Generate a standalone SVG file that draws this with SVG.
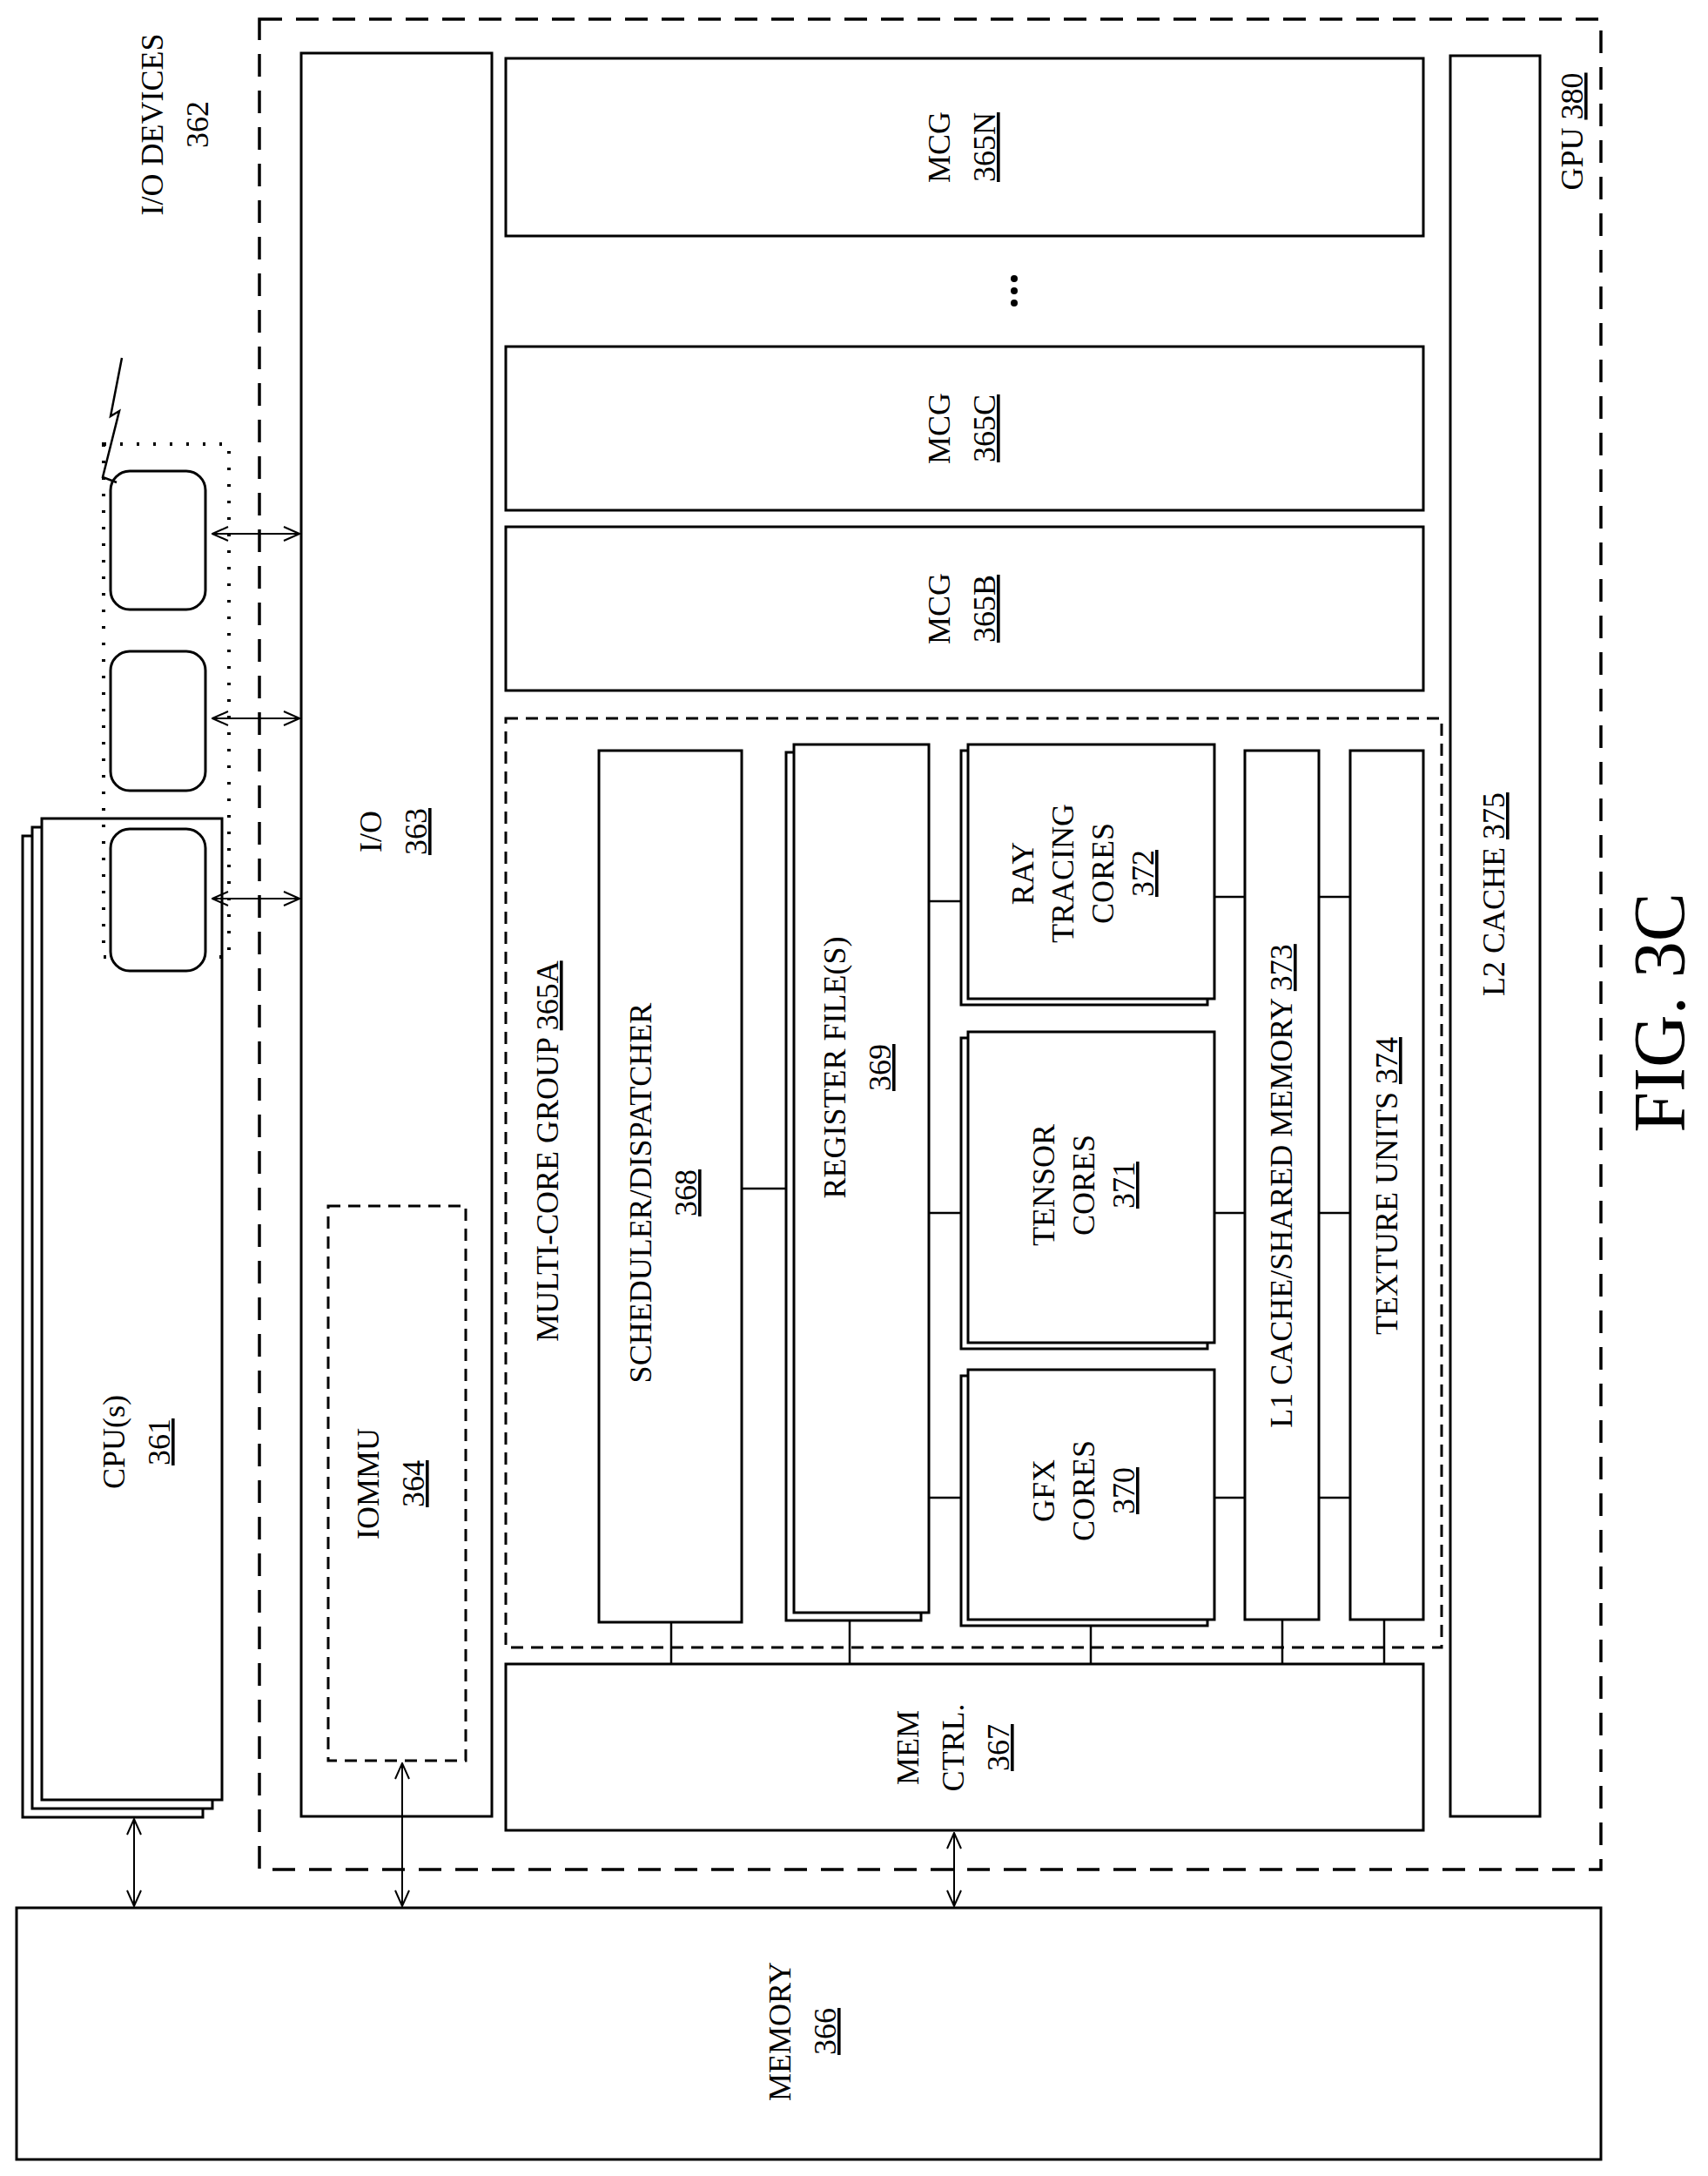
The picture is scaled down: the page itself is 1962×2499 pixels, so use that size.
<svg xmlns="http://www.w3.org/2000/svg" width="1962" height="2499" viewBox="0 0 1962 2499">
<defs>
<marker id="ah" viewBox="0 0 20 20" refX="19" refY="10" markerWidth="20" markerHeight="20" markerUnits="userSpaceOnUse" orient="auto-start-reverse"><path d="M1,2 L19,10 L1,18" fill="none" stroke="#000" stroke-width="2"/></marker>
</defs>
<style>
.b{fill:#fff;stroke:#000;stroke-width:3}
.d{fill:none;stroke:#000;stroke-width:3.5;stroke-dasharray:26 16}
.d2{fill:none;stroke:#000;stroke-width:3;stroke-dasharray:14 9}
.t{font-family:"Liberation Serif","Times New Roman",serif;font-size:36px;text-anchor:middle;fill:#000}
.l{stroke:#000;stroke-width:2.5;fill:none}
.a{stroke:#000;stroke-width:2;fill:none;marker-start:url(#ah);marker-end:url(#ah)}
</style>
<rect class="d" x="298" y="22" width="1541" height="2125"/>
<g id="cpu">
<rect class="b" x="26" y="960" width="207" height="1127"/>
<rect class="b" x="37" y="950" width="207" height="1127"/>
<rect class="b" x="48" y="940" width="207" height="1127"/>
<text class="t" transform="translate(163,1656) rotate(-90)"><tspan x="0" dy="-20">CPU(s)</tspan><tspan x="0" dy="52" text-decoration="underline">361</tspan></text>
</g>
<g id="iodev">
<rect x="119" y="510" width="144" height="589" fill="none" stroke="#000" stroke-width="4" stroke-dasharray="3 16"/>
<rect class="b" x="127" y="541" width="109" height="159" rx="22"/>
<rect class="b" x="127" y="748" width="109" height="160" rx="22"/>
<rect class="b" x="127" y="952" width="109" height="163" rx="22"/>
<polyline class="l" points="140,411 127,478 137,472 118,548 134,554"/>
<text class="t" transform="translate(207,143) rotate(-90)"><tspan x="0" dy="-20">I/O DEVICES</tspan><tspan x="0" dy="52">362</tspan></text>
</g>
<g id="io">
<rect class="b" x="346" y="61" width="219" height="2025"/>
<text class="t" transform="translate(458,955) rotate(-90)"><tspan x="0" dy="-20">I/O</tspan><tspan x="0" dy="52" text-decoration="underline">363</tspan></text>
</g>
<g id="iommu">
<rect class="d2" x="377" y="1385" width="158" height="637"/>
<text class="t" transform="translate(455,1704) rotate(-90)"><tspan x="0" dy="-20">IOMMU</tspan><tspan x="0" dy="52" text-decoration="underline">364</tspan></text>
</g>
<g id="mcgN"><rect class="b" x="581" y="67" width="1054" height="204"/>
<text class="t" transform="translate(1111,169) rotate(-90)"><tspan x="0" dy="-20">MCG</tspan><tspan x="0" dy="52" text-decoration="underline">365N</tspan></text></g>
<g id="dots"><circle cx="1165" cy="320" r="4"/><circle cx="1165" cy="334" r="4"/><circle cx="1165" cy="348" r="4"/></g>
<g id="mcgC"><rect class="b" x="581" y="398" width="1054" height="188"/>
<text class="t" transform="translate(1111,492) rotate(-90)"><tspan x="0" dy="-20">MCG</tspan><tspan x="0" dy="52" text-decoration="underline">365C</tspan></text></g>
<g id="mcgB"><rect class="b" x="581" y="605" width="1054" height="188"/>
<text class="t" transform="translate(1111,699) rotate(-90)"><tspan x="0" dy="-20">MCG</tspan><tspan x="0" dy="52" text-decoration="underline">365B</tspan></text></g>
<g id="mcgA"><rect class="d2" x="581" y="825" width="1075" height="1067"/>
<text class="t" transform="translate(629,1322) rotate(-90)" dy="12">MULTI-CORE GROUP <tspan text-decoration="underline">365A</tspan></text></g>
<g id="connectors">
<line class="l" x1="852" y1="1365" x2="905" y2="1365"/>
<line class="l" x1="1067" y1="1035" x2="1107" y2="1035"/>
<line class="l" x1="1067" y1="1393" x2="1107" y2="1393"/>
<line class="l" x1="1067" y1="1720" x2="1107" y2="1720"/>
<line class="l" x1="1395" y1="1030" x2="1430" y2="1030"/>
<line class="l" x1="1395" y1="1393" x2="1430" y2="1393"/>
<line class="l" x1="1395" y1="1720" x2="1430" y2="1720"/>
<line class="l" x1="1515" y1="1030" x2="1551" y2="1030"/>
<line class="l" x1="1515" y1="1393" x2="1551" y2="1393"/>
<line class="l" x1="1515" y1="1720" x2="1551" y2="1720"/>
<line class="l" x1="771" y1="1863" x2="771" y2="1911"/>
<line class="l" x1="976" y1="1860" x2="976" y2="1911"/>
<line class="l" x1="1253" y1="1866" x2="1253" y2="1911"/>
<line class="l" x1="1473" y1="1860" x2="1473" y2="1911"/>
<line class="l" x1="1590" y1="1860" x2="1590" y2="1911"/>
<line class="a" x1="244" y1="613" x2="344" y2="613"/>
<line class="a" x1="244" y1="825" x2="344" y2="825"/>
<line class="a" x1="244" y1="1032" x2="344" y2="1032"/>
<line class="a" x1="154" y1="2089" x2="154" y2="2189"/>
<line class="a" x1="462" y1="2025" x2="462" y2="2189"/>
<line class="a" x1="1096" y1="2105" x2="1096" y2="2189"/>
</g>
<g id="sched"><rect class="b" x="688" y="862" width="164" height="1001"/>
<text class="t" transform="translate(768,1370) rotate(-90)"><tspan x="0" dy="-20">SCHEDULER/DISPATCHER</tspan><tspan x="0" dy="52" text-decoration="underline">368</tspan></text></g>
<g id="reg"><rect class="b" x="903" y="864" width="155" height="997"/><rect class="b" x="912" y="855" width="155" height="997"/>
<text class="t" transform="translate(991,1226) rotate(-90)"><tspan x="0" dy="-20">REGISTER FILE(S)</tspan><tspan x="0" dy="52" text-decoration="underline">369</tspan></text></g>
<g id="ray"><rect class="b" x="1104" y="862" width="283" height="292"/><rect class="b" x="1112" y="855" width="283" height="292"/>
<text class="t" transform="translate(1253,1003) rotate(-90)"><tspan x="0" dy="-66">RAY</tspan><tspan x="0" dy="46">TRACING</tspan><tspan x="0" dy="46">CORES</tspan><tspan x="0" dy="46" text-decoration="underline">372</tspan></text></g>
<g id="tensor"><rect class="b" x="1104" y="1192" width="283" height="357"/><rect class="b" x="1112" y="1185" width="283" height="357"/>
<text class="t" transform="translate(1253,1361) rotate(-90)"><tspan x="0" dy="-42">TENSOR</tspan><tspan x="0" dy="46">CORES</tspan><tspan x="0" dy="46" text-decoration="underline">371</tspan></text></g>
<g id="gfx"><rect class="b" x="1104" y="1580" width="283" height="287"/><rect class="b" x="1112" y="1573" width="283" height="287"/>
<text class="t" transform="translate(1253,1712) rotate(-90)"><tspan x="0" dy="-42">GFX</tspan><tspan x="0" dy="46">CORES</tspan><tspan x="0" dy="46" text-decoration="underline">370</tspan></text></g>
<g id="l1"><rect class="b" x="1430" y="862" width="85" height="998"/>
<text class="t" transform="translate(1472,1362) rotate(-90)" dy="12">L1 CACHE/SHARED MEMORY <tspan text-decoration="underline">373</tspan></text></g>
<g id="tex"><rect class="b" x="1551" y="862" width="84" height="998"/>
<text class="t" transform="translate(1593,1362) rotate(-90)" dy="12">TEXTURE UNITS <tspan text-decoration="underline">374</tspan></text></g>
<g id="memctrl"><rect class="b" x="581" y="1911" width="1054" height="191"/>
<text class="t" transform="translate(1101,2007) rotate(-90)"><tspan x="0" dy="-46">MEM</tspan><tspan x="0" dy="52">CTRL.</tspan><tspan x="0" dy="52" text-decoration="underline">367</tspan></text></g>
<g id="l2"><rect class="b" x="1666" y="64" width="103" height="2022"/>
<text class="t" transform="translate(1716,1027) rotate(-90)" dy="12">L2 CACHE <tspan text-decoration="underline">375</tspan></text></g>
<g id="gpu"><text class="t" transform="translate(1806,151) rotate(-90)" dy="12">GPU <tspan text-decoration="underline">380</tspan></text></g>
<g id="memory"><rect class="b" x="19" y="2191" width="1820" height="289"/>
<text class="t" transform="translate(928,2333) rotate(-90)"><tspan x="0" dy="-20">MEMORY</tspan><tspan x="0" dy="52" text-decoration="underline">366</tspan></text></g>
<text transform="translate(1905,1163) rotate(-90)" font-family="Liberation Serif,serif" font-size="84" text-anchor="middle" dy="30">FIG. 3C</text>
</svg>
